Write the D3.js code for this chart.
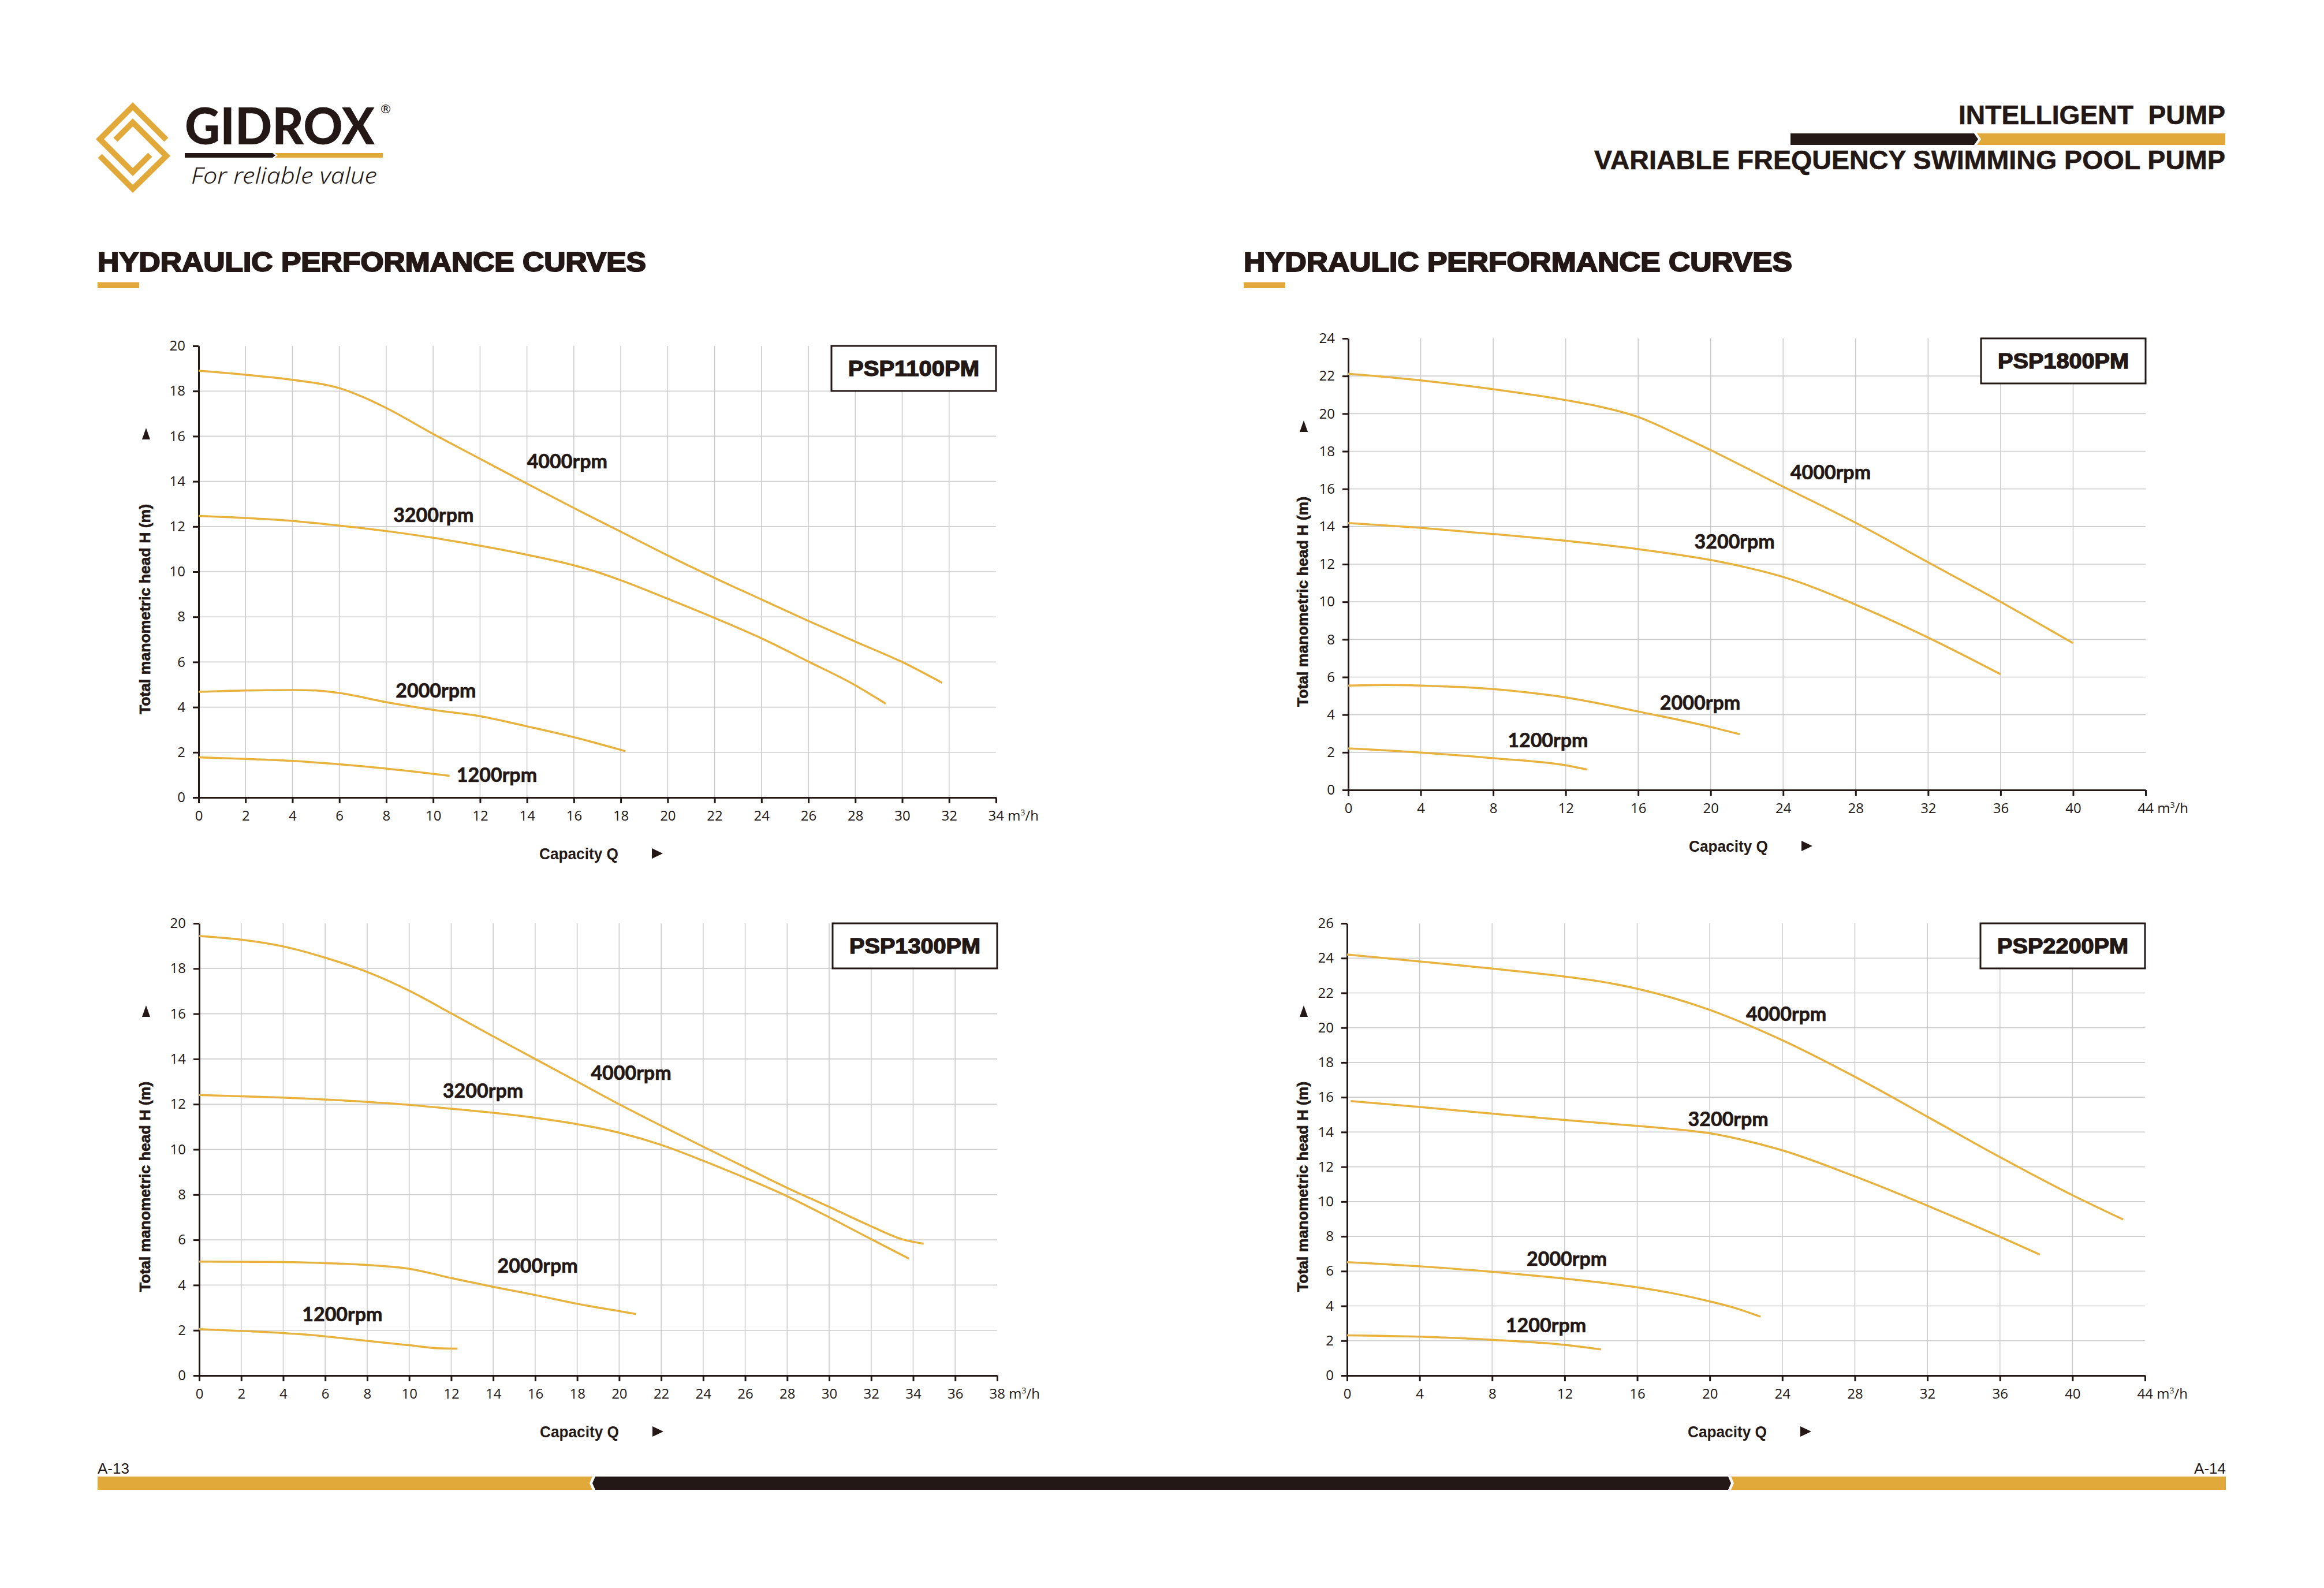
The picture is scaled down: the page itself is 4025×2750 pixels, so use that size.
<!DOCTYPE html>
<html>
<head>
<meta charset="utf-8">
<script src="https://cdn.jsdelivr.net/npm/d3@7"></script>
<style>
  html, body { margin: 0; padding: 0; background: #fff; }
  svg { display: block; }
</style>
</head>
<body>
<script>
// pump curves, points are [capacity Q (m3/h), head H (m)]
const rpmLabels = ["4000rpm", "3200rpm", "2000rpm", "1200rpm"];
const models = ["PSP1100PM", "PSP1800PM", "PSP1300PM", "PSP2200PM"];

const psp1100_4000 = [[0,18.9],[2,18.72],[4,18.5],[6,18.13],[7,17.74],[8,17.25],[10,16.1],[12,15.0],[14,13.9],[16,12.82],[18,11.77],[20,10.72],[22,9.72],[24,8.77],[26,7.82],[28,6.9],[30,6.0],[31.7,5.08]];
const psp1100_3200 = [[0,12.47],[2,12.38],[4,12.25],[6,12.04],[8,11.8],[10,11.5],[12,11.15],[14,10.75],[16,10.28],[17,9.98],[18,9.62],[20,8.8],[22,7.95],[24,7.05],[26,6.02],[28,4.97],[29.3,4.15]];
const psp1100_2000 = [[0,4.68],[2,4.74],[4,4.76],[5,4.74],[6,4.63],[8,4.22],[10,3.88],[12,3.6],[14,3.15],[16,2.67],[18.2,2.05]];
const psp1100_1200 = [[0,1.78],[2,1.71],[4,1.62],[6,1.47],[8,1.28],[10.7,0.96]];

const psp1800_4000 = [[0,22.12],[4,21.77],[8,21.3],[12,20.72],[14,20.35],[16,19.82],[18,18.98],[20,18.06],[24,16.12],[28,14.2],[32,12.1],[36,10.0],[40,7.8]];
const psp1800_3200 = [[0,14.19],[4,13.93],[8,13.6],[12,13.24],[16,12.8],[20,12.22],[22,11.82],[24,11.32],[28,9.85],[32,8.1],[36,6.15]];
const psp1800_2000 = [[0,5.55],[2,5.58],[4,5.55],[8,5.36],[10,5.17],[12,4.92],[16,4.17],[20,3.35],[21.6,2.96]];
const psp1800_1200 = [[0,2.21],[4,1.99],[8,1.69],[12,1.31],[13.2,1.08]];

const psp1300_4000 = [[0,19.44],[2,19.28],[4,18.98],[6,18.48],[8,17.85],[10,17.02],[12,16.02],[14,15.0],[16,14.0],[18,13.0],[20,12.0],[22,11.05],[24,10.12],[26,9.21],[28,8.3],[30,7.46],[32,6.6],[33.5,6.02],[34.5,5.83]];
const psp1300_3200 = [[0,12.41],[4,12.29],[8,12.1],[10,11.97],[12,11.8],[14,11.62],[16,11.4],[18,11.12],[20,10.74],[22,10.2],[24,9.5],[26,8.74],[28,7.93],[30,7.0],[32,6.03],[33.8,5.17]];
const psp1300_2000 = [[0,5.04],[4,5.02],[6,4.97],[8,4.89],[9.5,4.78],[10,4.72],[12,4.31],[14,3.92],[16,3.56],[18,3.17],[20,2.85],[20.8,2.72]];
const psp1300_1200 = [[0,2.05],[2,1.97],[4,1.88],[6,1.73],[8,1.53],[10,1.34],[11.5,1.2],[12.3,1.19]];

const psp2200_4000 = [[0,24.21],[4,23.81],[8,23.4],[12,22.94],[14,22.65],[16,22.24],[18,21.7],[20,21.02],[22,20.2],[24,19.28],[28,17.18],[32,14.88],[36,12.56],[40,10.37],[42.8,8.97]];
const psp2200_3200 = [[0.2,15.78],[4,15.44],[8,15.06],[12,14.69],[16,14.35],[19,14.06],[20,13.93],[22,13.5],[24,12.95],[28,11.45],[32,9.77],[36,7.98],[38.2,6.95]];
const psp2200_2000 = [[0,6.52],[4,6.28],[8,5.96],[12,5.57],[16,5.07],[18,4.72],[20,4.26],[21.5,3.85],[22.8,3.38]];
const psp2200_1200 = [[0,2.31],[4,2.23],[8,2.05],[12,1.76],[14,1.5]];

// tick labels
const xTicks1100 = [0,2,4,6,8,10,12,14,16,18,20,22,24,26,28,30,32,34];
const yTicks1100 = [0,2,4,6,8,10,12,14,16,18,20];
const xTicks1800 = [0,4,8,12,16,20,24,28,32,36,40,44];
const yTicks1800 = [0,2,4,6,8,10,12,14,16,18,20,22,24];
const xTicks1300 = [0,2,4,6,8,10,12,14,16,18,20,22,24,26,28,30,32,34,36,38];
const yTicks1300 = [0,2,4,6,8,10,12,14,16,18,20];
const xTicks2200 = [0,4,8,12,16,20,24,28,32,36,40,44];
const yTicks2200 = [0,2,4,6,8,10,12,14,16,18,20,22,24,26];

// where the rpm captions sit (in Q/H units)
const labelAt1100 = [[14.0,14.9],[8.3,12.5],[8.4,4.75],[11.0,1.0]];
const labelAt1800 = [[24.4,16.9],[19.1,13.2],[17.2,4.65],[8.8,2.66]];
const labelAt1300 = [[18.65,13.4],[11.6,12.6],[14.2,4.85],[4.9,2.72]];
const labelAt2200 = [[22.0,20.8],[18.8,14.75],[9.9,6.72],[8.75,2.9]];

const W = 4025, H = 2750;
const ink = "#231815", gold = "#e1a93a", lineGold = "#e8b23f", gridGrey = "#cdcdcd";

const charts = [
  {model: models[0], series: [psp1100_4000, psp1100_3200, psp1100_2000, psp1100_1200], labelAt: labelAt1100,
   xTicks: xTicks1100, yTicks: yTicks1100, frame: {left: 344, right: 1725, top: 599, bottom: 1381}, titleX: 251},
  {model: models[1], series: [psp1800_4000, psp1800_3200, psp1800_2000, psp1800_1200], labelAt: labelAt1800,
   xTicks: xTicks1800, yTicks: yTicks1800, frame: {left: 2335, right: 3716, top: 586, bottom: 1368}, titleX: 2256},
  {model: models[2], series: [psp1300_4000, psp1300_3200, psp1300_2000, psp1300_1200], labelAt: labelAt1300,
   xTicks: xTicks1300, yTicks: yTicks1300, frame: {left: 345, right: 1727, top: 1599, bottom: 2382}, titleX: 251},
  {model: models[3], series: [psp2200_4000, psp2200_3200, psp2200_2000, psp2200_1200], labelAt: labelAt2200,
   xTicks: xTicks2200, yTicks: yTicks2200, frame: {left: 2333, right: 3715, top: 1599, bottom: 2382}, titleX: 2256}
];

const svg = d3.select("body").append("svg")
    .attr("width", W)
    .attr("height", H);

svg.append("rect").attr("width", W).attr("height", H).attr("fill", "#fff");

// ---- page header ----
// logo mark: two interlocking chevrons
const logo = svg.append("g").attr("fill", "none").attr("stroke", gold)
    .attr("stroke-width", 10).attr("stroke-linejoin", "miter");
logo.append("polyline").attr("points", "288,242 230,184 173,241 230,298 260,268");
logo.append("polyline").attr("points", "200,242 230,212 288,270 230,327 173,270");

svg.append("text")
    .attr("x", 320).attr("y", 250)
    .attr("font-family", "Lato, sans-serif").attr("font-weight", 900)
    .attr("font-size", 88).attr("fill", ink)
    .attr("textLength", 329).attr("lengthAdjust", "spacingAndGlyphs")
    .text("GIDROX");
svg.append("text")
    .attr("x", 657).attr("y", 196)
    .attr("font-family", "'DejaVu Sans', sans-serif").attr("font-size", 22).attr("fill", ink)
    .text("®");
svg.append("polygon").attr("fill", ink).attr("points", "320,265 472,265 477,269 472,273 320,273");
svg.append("polygon").attr("fill", gold).attr("points", "476,265 663,265 663,273 476,273 481,269");
svg.append("text")
    .attr("x", 331).attr("y", 318)
    .attr("font-family", "'Noto Sans', sans-serif").attr("font-style", "italic").attr("font-weight", 300)
    .attr("font-size", 38).attr("fill", ink)
    .attr("textLength", 322).attr("lengthAdjust", "spacingAndGlyphs")
    .text("For reliable value");

const narrow = "'Liberation Sans Narrow', 'Arial Narrow', 'Liberation Sans', sans-serif";

svg.append("text")
    .attr("x", 3854).attr("y", 215).attr("text-anchor", "end")
    .attr("font-family", narrow).attr("font-weight", 700).attr("font-size", 46).attr("fill", ink)
    .attr("stroke", ink).attr("stroke-width", 0.6)
    .attr("textLength", 462).attr("lengthAdjust", "spacingAndGlyphs")
    .attr("xml:space", "preserve")
    .text("INTELLIGENT  PUMP");
svg.append("polygon").attr("fill", ink).attr("points", "3101,231 3419,231 3426,241 3419,251 3101,251");
svg.append("polygon").attr("fill", gold).attr("points", "3424,231 3854,231 3854,251 3424,251 3431,241");
svg.append("text")
    .attr("x", 3854).attr("y", 293).attr("text-anchor", "end")
    .attr("font-family", narrow).attr("font-weight", 700).attr("font-size", 46).attr("fill", ink)
    .attr("stroke", ink).attr("stroke-width", 0.6)
    .attr("textLength", 1093).attr("lengthAdjust", "spacingAndGlyphs")
    .text("VARIABLE FREQUENCY SWIMMING POOL PUMP");

// section titles
[169, 2154].forEach(function(x0) {
    svg.append("text")
        .attr("x", x0).attr("y", 470)
        .attr("font-family", "'Liberation Sans', Arial, sans-serif").attr("font-weight", 700)
        .attr("font-size", 48).attr("fill", ink)
        .attr("stroke", ink).attr("stroke-width", 2.2)
        .attr("textLength", 950).attr("lengthAdjust", "spacingAndGlyphs")
        .text("HYDRAULIC PERFORMANCE CURVES");
    svg.append("rect").attr("x", x0).attr("y", 489).attr("width", 72).attr("height", 10).attr("fill", gold);
});

// ---- charts ----
charts.forEach(drawChart);

function drawChart(c) {
    var f = c.frame;
    var xMax = c.xTicks[c.xTicks.length - 1],
        yMax = c.yTicks[c.yTicks.length - 1];

    var x = d3.scaleLinear().domain([0, xMax]).range([f.left, f.right]);
    var y = d3.scaleLinear().domain([0, yMax]).range([f.bottom, f.top]);

    var g = svg.append("g");

    // grid
    g.append("g").selectAll("line")
        .data(c.yTicks.filter(function(v) { return v > 0 && v < yMax; }))
        .join("line")
        .attr("x1", f.left).attr("x2", f.right)
        .attr("y1", function(d) { return y(d); }).attr("y2", function(d) { return y(d); })
        .attr("stroke", gridGrey).attr("stroke-width", 1.6);
    g.append("g").selectAll("line")
        .data(c.xTicks.filter(function(v) { return v > 0 && v < xMax; }))
        .join("line")
        .attr("x1", function(d) { return x(d); }).attr("x2", function(d) { return x(d); })
        .attr("y1", f.top).attr("y2", f.bottom)
        .attr("stroke", gridGrey).attr("stroke-width", 1.6);

    // axes
    var gx = g.append("g")
        .attr("transform", "translate(0," + f.bottom + ")")
        .call(d3.axisBottom(x).tickValues(c.xTicks).tickSize(10).tickSizeOuter(0).tickPadding(13));
    var gy = g.append("g")
        .attr("transform", "translate(" + f.left + ",0)")
        .call(d3.axisLeft(y).tickValues(c.yTicks).tickSize(10).tickSizeOuter(0).tickPadding(13));

    [gx, gy].forEach(function(a) {
        a.attr("font-family", "'Open Sans', sans-serif").attr("font-size", 24);
        a.select(".domain").attr("stroke", ink).attr("stroke-width", 3);
        a.selectAll(".tick line").attr("stroke", ink).attr("stroke-width", 3);
        a.selectAll(".tick text").attr("fill", ink);
    });

    // last x tick gets the unit
    gx.selectAll(".tick text").filter(function(d) { return d === xMax; })
        .each(function(d) {
            var t = d3.select(this);
            t.text(null).attr("text-anchor", "start").attr("x", -14);
            t.append("tspan").text(d + " m");
            t.append("tspan").attr("dy", -9).attr("font-size", 14).text("3");
            t.append("tspan").attr("dy", 9).text("/h");
        });

    // curves
    var line = d3.line()
        .x(function(d) { return x(d[0]); })
        .y(function(d) { return y(d[1]); })
        .curve(d3.curveMonotoneX);

    g.append("g").selectAll("path")
        .data(c.series)
        .join("path")
        .attr("d", line)
        .attr("fill", "none")
        .attr("stroke", lineGold)
        .attr("stroke-width", 3.5);

    g.append("g").selectAll("text")
        .data(rpmLabels)
        .join("text")
        .attr("x", function(d, i) { return x(c.labelAt[i][0]); })
        .attr("y", function(d, i) { return y(c.labelAt[i][1]); })
        .attr("dy", "0.36em")
        .attr("font-family", "Lato, sans-serif").attr("font-weight", 700)
        .attr("font-size", 34).attr("fill", ink)
        .attr("stroke", ink).attr("stroke-width", 0.7)
        .text(function(d) { return d; });

    // model box
    var bw = 285, bh = 78;
    g.append("rect")
        .attr("x", f.right - bw).attr("y", f.top)
        .attr("width", bw).attr("height", bh)
        .attr("fill", "#fff").attr("stroke", ink).attr("stroke-width", 3);
    g.append("text")
        .attr("x", f.right - bw / 2).attr("y", f.top + bh / 2 + 13)
        .attr("text-anchor", "middle")
        .attr("font-family", "'Liberation Sans', Arial, sans-serif").attr("font-weight", 700)
        .attr("font-size", 36).attr("fill", ink)
        .attr("stroke", ink).attr("stroke-width", 1.4)
        .attr("textLength", 227).attr("lengthAdjust", "spacingAndGlyphs")
        .text(c.model);

    // y title + arrow
    var ty = f.top + 456;
    g.append("text")
        .attr("transform", "translate(" + (c.titleX + 9) + "," + ty + ") rotate(-90)")
        .attr("text-anchor", "middle")
        .attr("font-family", "'Liberation Sans', Arial, sans-serif").attr("font-weight", 700)
        .attr("font-size", 26).attr("fill", ink)
        .attr("stroke", ink).attr("stroke-width", 0.7)
        .attr("textLength", 364).attr("lengthAdjust", "spacingAndGlyphs")
        .text("Total manometric head H (m)");
    var ay = f.top + 152, ax = c.titleX + 2;
    g.append("polygon")
        .attr("points", [[ax, ay - 10], [ax + 7, ay + 10], [ax - 7, ay + 10]].join(" "))
        .attr("fill", ink);

    // x title + arrow
    g.append("text")
        .attr("x", f.left + 590).attr("y", f.bottom + 107)
        .attr("font-family", narrow).attr("font-weight", 700)
        .attr("font-size", 28).attr("fill", ink)
        .attr("textLength", 137).attr("lengthAdjust", "spacingAndGlyphs")
        .text("Capacity Q");
    var rx = f.left + 785, ry = f.bottom + 97;
    g.append("polygon")
        .attr("points", [[rx, ry - 9], [rx + 19, ry], [rx, ry + 9]].join(" "))
        .attr("fill", ink);
}

// ---- footer ----
svg.append("polygon").attr("fill", gold).attr("points", "169,2557 1026,2557 1021,2568.5 1026,2580 169,2580");
svg.append("polygon").attr("fill", ink).attr("points", "1031,2557 2993,2557 2998,2568.5 2993,2580 1031,2580 1026,2568.5");
svg.append("polygon").attr("fill", gold).attr("points", "2998,2557 3855,2557 3855,2580 2998,2580 3003,2568.5");
svg.append("text")
    .attr("x", 169).attr("y", 2552)
    .attr("font-family", narrow).attr("font-size", 26).attr("fill", ink)
    .text("A-13");
svg.append("text")
    .attr("x", 3855).attr("y", 2552).attr("text-anchor", "end")
    .attr("font-family", narrow).attr("font-size", 26).attr("fill", ink)
    .text("A-14");
</script>
</body>
</html>
